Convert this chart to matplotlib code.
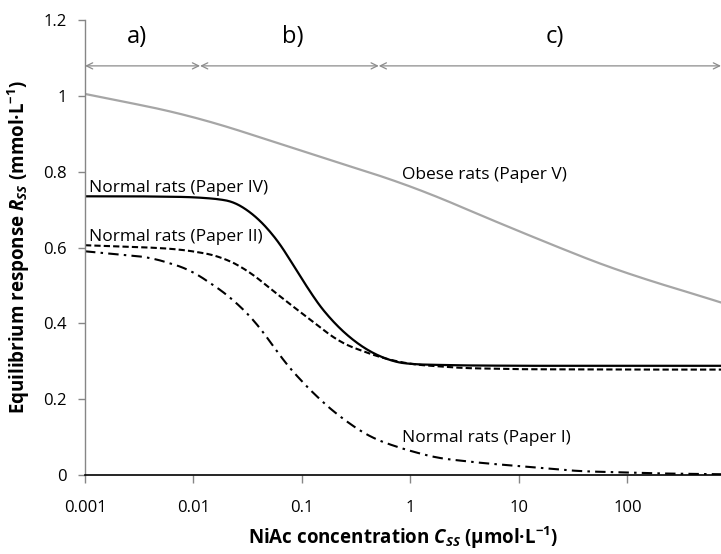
import numpy as np
import matplotlib
matplotlib.use('Agg')
from matplotlib import pyplot as plt
from matplotlib.ticker import FixedLocator, FuncFormatter, NullLocator

plt.rcParams['font.family'] = ['Open Sans', 'DejaVu Sans']
plt.rcParams['mathtext.fontset'] = 'custom'
plt.rcParams['mathtext.rm'] = 'Open Sans:bold'
plt.rcParams['mathtext.it'] = 'Open Sans:italic:bold'
plt.rcParams['mathtext.bf'] = 'Open Sans:bold'

# curves (x in umol/L, y in mmol/L)
obese_x = [0.001, 0.003, 0.01, 0.03, 0.1, 0.3, 1, 3, 10, 30, 100, 300, 728]
obese_y = [1.005, 0.978, 0.947, 0.903, 0.855, 0.81, 0.765, 0.705, 0.643, 0.587, 0.529, 0.49, 0.455]

p4_x = [0.001, 0.003, 0.01, 0.02, 0.0268, 0.0507, 0.0776, 0.1186, 0.181, 0.343, 0.647, 1, 3, 10, 100, 728]
p4_y = [0.735, 0.735, 0.733, 0.726, 0.716, 0.648, 0.569, 0.481, 0.41, 0.339, 0.30, 0.292, 0.289, 0.288, 0.288, 0.288]

p2_x = [0.001, 0.004, 0.0075, 0.0115, 0.0175, 0.031, 0.0627, 0.1186, 0.224, 0.524, 1, 3, 10, 100, 728]
p2_y = [0.606, 0.60, 0.595, 0.587, 0.577, 0.542, 0.471, 0.41, 0.349, 0.31, 0.292, 0.282, 0.279, 0.278, 0.278]

p1_x = [0.001, 0.004, 0.0093, 0.0115, 0.0217, 0.041, 0.0627, 0.096, 0.147, 0.224, 0.42, 0.8, 1.74, 4.4, 36, 200, 728]
p1_y = [0.59, 0.574, 0.542, 0.524, 0.471, 0.392, 0.312, 0.251, 0.198, 0.153, 0.10, 0.071, 0.045, 0.032, 0.01, 0.004, 0.002]

# concentration ranges a), b), c)
region_names = ['a)', 'b)', 'c)']
region_edges = [0.001, 0.0115, 0.51, 728]

x_ticks = [0.001, 0.01, 0.1, 1, 10, 100]
y_ticks = [0, 0.2, 0.4, 0.6, 0.8, 1.0, 1.2]


def smooth(xs, ys, k=9, n=400):
    lx = np.log10(xs)
    gx = np.linspace(lx[0], lx[-1], n)
    gy = np.interp(gx, lx, ys)
    # extend linearly at the ends so the moving average does not bend them
    left = gy[0] + (gy[0] - gy[1]) * np.arange(k, 0, -1)
    right = gy[-1] + (gy[-1] - gy[-2]) * np.arange(1, k + 1)
    pad = np.concatenate([left, gy, right])
    gy = np.convolve(pad, np.ones(2 * k + 1) / (2 * k + 1), mode='same')[k:-k]
    return 10 ** gx, gy


fig = plt.figure(figsize=(7.21, 5.54), dpi=100)
ax = fig.add_axes([85 / 721, 79 / 554, 636 / 721, 455 / 554])

ax.plot(*smooth(obese_x, obese_y, k=30), color='#a6a6a6', lw=1.6)
ax.plot(*smooth(p4_x, p4_y), color='black', lw=1.6)
ax.plot(*smooth(p2_x, p2_y), color='black', lw=1.5, linestyle=(0, (3, 1.5)))
ax.plot(*smooth(p1_x, p1_y), color='black', lw=1.5, linestyle=(0, (5, 2.5, 1.2, 2.5)))

ax.set_xscale('log')
ax.set_xlim(0.001, 728)
ax.set_ylim(0, 1.2)

ax.xaxis.set_major_locator(FixedLocator(x_ticks))
ax.xaxis.set_minor_locator(NullLocator())
ax.xaxis.set_major_formatter(FuncFormatter(lambda v, p: '%g' % v))
ax.yaxis.set_major_locator(FixedLocator(y_ticks))
ax.yaxis.set_major_formatter(FuncFormatter(lambda v, p: '%g' % v))

for s in ['top', 'right']:
    ax.spines[s].set_visible(False)
ax.spines['left'].set_color('#868686')
ax.spines['left'].set_linewidth(1.0)
ax.spines['bottom'].set_color('black')
ax.spines['bottom'].set_linewidth(1.2)
ax.tick_params(axis='y', direction='out', length=5, width=1, color='#868686',
               labelsize=12, pad=8)
ax.tick_params(axis='x', direction='out', length=6, width=1, color='#868686',
               labelsize=12, pad=12)

ax.set_xlabel(r'NiAc concentration $C_{SS}$ (µmol·L$^{-1}$)', fontsize=13.5,
              fontweight='bold', labelpad=6)
ax.set_ylabel(r'Equilibrium response $R_{SS}$ (mmol·L$^{-1}$)', fontsize=13.5,
              fontweight='bold', labelpad=8)

# region arrows and names
label_x = [0.0030, 0.0826, 21.5]
for i in range(3):
    ax.annotate('', xy=(region_edges[i], 1.079), xytext=(region_edges[i + 1], 1.079),
                arrowprops=dict(arrowstyle='<->,head_length=0.45,head_width=0.22',
                                color='#8c8c8c', lw=0.9, shrinkA=0, shrinkB=0),
                annotation_clip=False)
    ax.text(label_x[i], 1.156, region_names[i], fontsize=17, ha='center',
            va='center', color='black')

ax.text(0.00109, 0.746, 'Normal rats (Paper IV)', fontsize=12.5, va='baseline')
ax.text(0.00109, 0.616, 'Normal rats (Paper II)', fontsize=12.5, va='baseline')
ax.text(0.836, 0.780, 'Obese rats (Paper V)', fontsize=12.5, va='baseline')
ax.text(0.836, 0.087, 'Normal rats (Paper I)', fontsize=12.5, va='baseline')

fig.savefig('out.png', dpi=100)
